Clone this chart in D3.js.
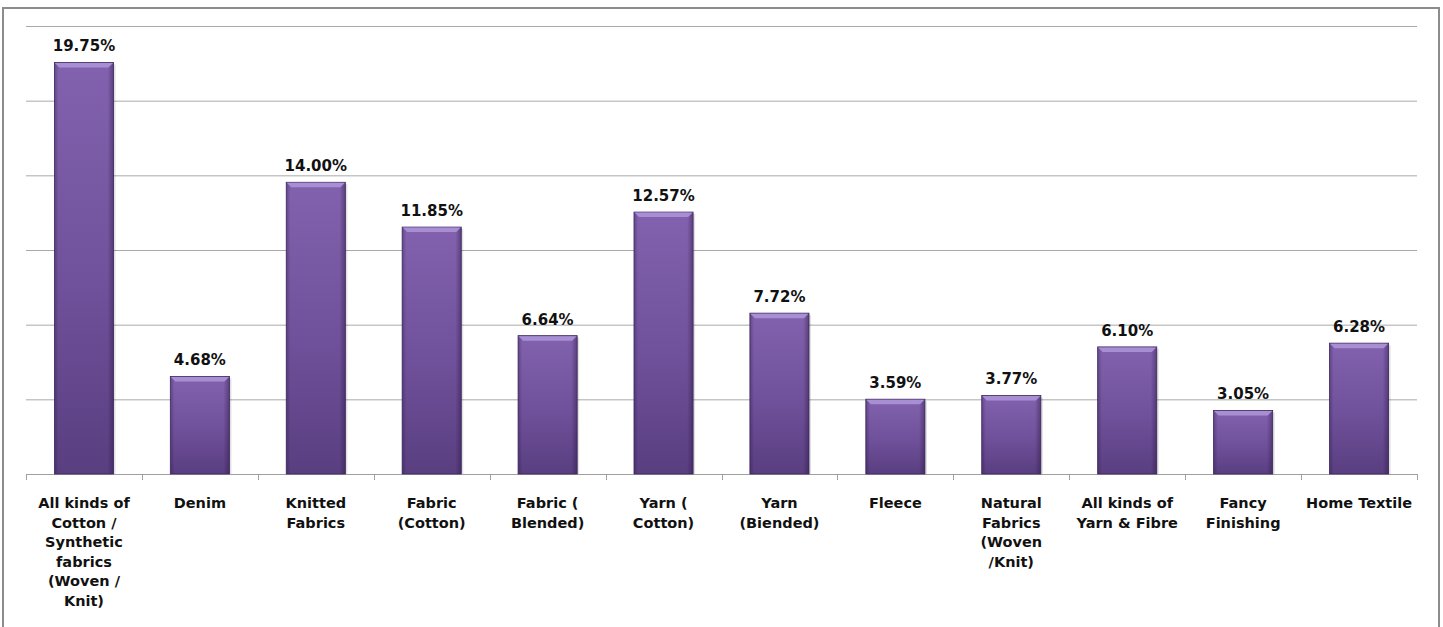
<!DOCTYPE html>
<html>
<head>
<meta charset="utf-8">
<script src="https://cdn.jsdelivr.net/npm/d3@7/dist/d3.min.js"></script>
<style>
  html, body { margin: 0; padding: 0; background: #fff; }
  svg { display: block; font-family: "DejaVu Sans", Verdana, sans-serif; }
</style>
</head>
<body>
<svg id="chart" width="1443" height="627"></svg>
<script>
// chart data
const categories = [
  "All kinds of\nCotton /\nSynthetic\nfabrics\n(Woven /\nKnit)",
  "Denim",
  "Knitted\nFabrics",
  "Fabric\n(Cotton)",
  "Fabric (\nBlended)",
  "Yarn (\nCotton)",
  "Yarn\n(Biended)",
  "Fleece",
  "Natural\nFabrics\n(Woven\n/Knit)",
  "All kinds of\nYarn & Fibre",
  "Fancy\nFinishing",
  "Home Textile"
];
const values = [19.75, 4.68, 14.00, 11.85, 6.64, 12.57, 7.72, 3.59, 3.77, 6.10, 3.05, 6.28];
const valueLabels = ["19.75%", "4.68%", "14.00%", "11.85%", "6.64%", "12.57%", "7.72%", "3.59%", "3.77%", "6.10%", "3.05%", "6.28%"];
const yMax = 21.5;       // top of the value axis (no tick labels shown)
const gridCount = 6;     // number of gridline intervals

const W = 1443, H = 627;
const margin = { top: 26, right: 26, bottom: 153, left: 26 };
const plotRight = 1417;

const svg = d3.select("#chart");

// outer frame
svg.append("rect")
  .attr("x", 3).attr("y", 8)
  .attr("width", 1436).attr("height", 640)
  .attr("fill", "#fff")
  .attr("stroke", "#8c8c8c")
  .attr("stroke-width", 2);

const x = d3.scaleBand()
  .domain(categories)
  .range([margin.left, plotRight])
  .paddingInner(0.49)
  .paddingOuter(0.245);

const y = d3.scaleLinear()
  .domain([0, yMax])
  .range([H - margin.bottom + 0, margin.top]);

// gradients
const defs = svg.append("defs");
const vg = defs.append("linearGradient").attr("id", "barV")
  .attr("x1", 0).attr("y1", 0).attr("x2", 0).attr("y2", 1);
vg.append("stop").attr("offset", "0%").attr("stop-color", "#8262ae");
vg.append("stop").attr("offset", "55%").attr("stop-color", "#6f509a");
vg.append("stop").attr("offset", "100%").attr("stop-color", "#593e80");

const hg = defs.append("linearGradient").attr("id", "barH")
  .attr("x1", 0).attr("y1", 0).attr("x2", 1).attr("y2", 0);
hg.append("stop").attr("offset", "0%").attr("stop-color", "#2a1740").attr("stop-opacity", 0.35);
hg.append("stop").attr("offset", "7%").attr("stop-color", "#2a1740").attr("stop-opacity", 0);
hg.append("stop").attr("offset", "90%").attr("stop-color", "#2a1740").attr("stop-opacity", 0);
hg.append("stop").attr("offset", "100%").attr("stop-color", "#2a1740").attr("stop-opacity", 0.45);

// gridlines
const yAxis = d3.axisLeft(y)
  .tickValues(d3.range(1, gridCount + 1).map(i => i * yMax / gridCount))
  .tickSize(-(plotRight - margin.left))
  .tickFormat("");
svg.append("g")
  .attr("transform", `translate(${margin.left},0)`)
  .call(yAxis)
  .call(g => g.select(".domain").remove())
  .call(g => g.selectAll("line").attr("stroke", "#a9a9a9").attr("stroke-width", 1));

// category axis
const xAxis = d3.axisBottom(x).tickSize(0).tickPadding(0);
const xg = svg.append("g")
  .attr("transform", `translate(0,${y(0)})`)
  .call(xAxis);
xg.select(".domain").attr("stroke", "#a0a0a0").attr("d", `M${margin.left},0.5H${plotRight}`);
xg.selectAll(".tick text").each(function(d) {
  const t = d3.select(this);
  t.text(null)
    .attr("y", 0)
    .attr("fill", "#111")
    .attr("font-size", "14.5px")
    .attr("font-weight", "bold")
    .attr("font-family", "'DejaVu Sans', Verdana, sans-serif");
  d.split("\n").forEach((line, i) => {
    t.append("tspan").attr("x", 0).attr("y", 34 + i * 19.6).attr("dy", null).text(line);
  });
});
xg.selectAll(".tick text").attr("dy", null);

// boundary tick marks
const bounds = categories.map(c => x(c) - x.step() * x.paddingInner() / 2).concat([plotRight]);
xg.selectAll(".bound")
  .data(bounds)
  .enter().append("line")
  .attr("class", "bound")
  .attr("x1", d => Math.round(d) + 0.5).attr("x2", d => Math.round(d) + 0.5)
  .attr("y1", 0).attr("y2", 6)
  .attr("stroke", "#a0a0a0");

// bars
const bars = svg.append("g").selectAll("g.bar")
  .data(values)
  .enter().append("g")
  .attr("class", "bar");

const bw = x.bandwidth();
bars.append("rect")  // soft shadow
  .attr("x", (d, i) => x(categories[i]) + 2)
  .attr("y", d => y(d) + 2)
  .attr("width", bw)
  .attr("height", d => y(0) - y(d) - 2)
  .attr("fill", "#000").attr("opacity", 0.12);
bars.append("rect")
  .attr("x", (d, i) => x(categories[i]))
  .attr("y", d => y(d))
  .attr("width", bw)
  .attr("height", d => y(0) - y(d))
  .attr("fill", "url(#barV)");
bars.append("rect")
  .attr("x", (d, i) => x(categories[i]))
  .attr("y", d => y(d))
  .attr("width", bw)
  .attr("height", d => y(0) - y(d))
  .attr("fill", "url(#barH)")
  .attr("stroke", "#3e2960")
  .attr("stroke-width", 0.8);
bars.append("path")  // top bevel
  .attr("d", (d, i) => {
    const x0 = x(categories[i]), y0 = y(d);
    return `M${x0 + 0.5},${y0 + 0.5}H${x0 + bw - 0.5}L${x0 + bw - 5},${y0 + 5}H${x0 + 5}Z`;
  })
  .attr("fill", "#a88fd4");

// value labels
svg.append("g").selectAll("text")
  .data(values)
  .enter().append("text")
  .attr("x", (d, i) => x(categories[i]) + bw / 2)
  .attr("y", d => y(d) - 11)
  .attr("text-anchor", "middle")
  .attr("font-size", "15px")
  .attr("font-weight", "bold")
  .attr("fill", "#111")
  .text((d, i) => valueLabels[i]);
</script>
</body>
</html>
